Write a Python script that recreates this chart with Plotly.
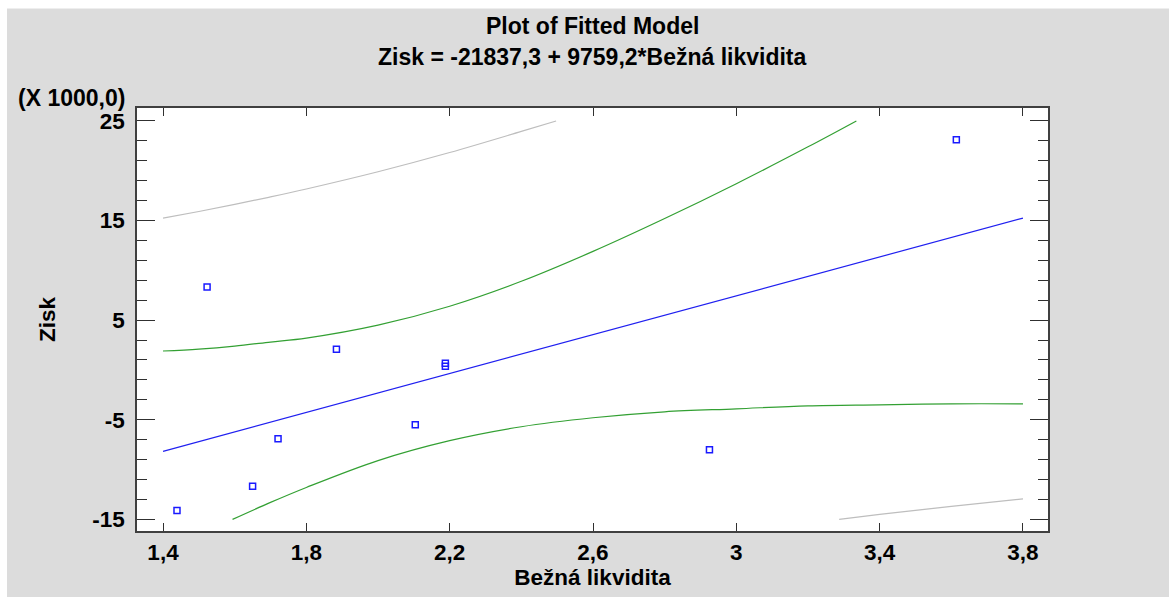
import plotly.graph_objects as go

# Observed data (Zisk in thousands)
x_pts = [1.523, 1.884, 2.188, 2.188, 2.104, 1.721, 1.650, 1.439, 3.614, 2.925]
y_pts = [8.33, 2.07, 0.67, 0.37, -5.5, -6.9, -11.67, -14.1, 23.1, -8.0]

# Fitted line endpoints
fit_x = [1.4, 3.8]
fit_y = [-8.17, 15.25]

# Confidence limits (green)
conf_up_x = [1.4, 1.5, 1.6, 1.7, 1.8, 2.0, 2.2, 2.4, 2.6, 2.8, 3.0, 3.2, 3.335]
conf_up_y = [1.9, 2.1, 2.4, 2.8, 3.2, 4.5, 6.4, 8.9, 11.9, 15.2, 18.7, 22.4, 25.0]
conf_lo_x = [1.594, 1.7, 1.8, 2.0, 2.2, 2.4, 2.6, 2.8, 3.0, 3.2, 3.4, 3.6, 3.8]
conf_lo_y = [-15.0, -13.3, -11.8, -9.1, -7.1, -5.7, -4.8, -4.2, -3.9, -3.6, -3.5, -3.4, -3.4]

# Prediction limits (gray)
pred_up_x = [1.4, 1.5, 1.6, 1.7, 1.8, 2.0, 2.2, 2.4, 2.497]
pred_up_y = [15.25, 15.91, 16.62, 17.37, 18.17, 19.9, 21.83, 23.95, 25.0]
pred_lo_x = [3.287, 3.4, 3.6, 3.8]
pred_lo_y = [-15.0, -14.5, -13.7, -12.95]

x_tickvals = [1.4, 1.8, 2.2, 2.6, 3.0, 3.4, 3.8]
x_ticktext = ["1,4", "1,8", "2,2", "2,6", "3", "3,4", "3,8"]
y_tickvals = [-15, -5, 5, 15, 25]
y_ticktext = ["-15", "-5", "5", "15", "25"]

FONT = "Liberation Sans, Arial, sans-serif"
GRAY_BG = "#DCDCDC"
FS = 22.5

fig = go.Figure()
fig.add_trace(go.Scatter(x=pred_up_x, y=pred_up_y, mode="lines", line=dict(color="#BEBEBE", width=1.2, shape="spline")))
fig.add_trace(go.Scatter(x=pred_lo_x, y=pred_lo_y, mode="lines", line=dict(color="#BEBEBE", width=1.2, shape="spline")))
fig.add_trace(go.Scatter(x=conf_up_x, y=conf_up_y, mode="lines", line=dict(color="#33A033", width=1.2, shape="spline")))
fig.add_trace(go.Scatter(x=conf_lo_x, y=conf_lo_y, mode="lines", line=dict(color="#33A033", width=1.2, shape="spline")))
fig.add_trace(go.Scatter(x=fit_x, y=fit_y, mode="lines", line=dict(color="#2020F0", width=1.2)))
fig.add_trace(go.Scatter(x=x_pts, y=y_pts, mode="markers",
                         marker=dict(symbol="square-open", size=6, color="#1a1aff", line=dict(width=1.5))))

axis_common = dict(
    showline=True, linecolor="#404040", linewidth=1.5, mirror="ticks",
    ticks="inside", tickcolor="#303030", tickwidth=1.3,
    showgrid=False, zeroline=False,
    tickfont=dict(family=FONT, size=FS, color="black", weight="bold"),
)

fig.update_xaxes(**axis_common, range=[1.3274, 3.8698], tickmode="array",
                 tickvals=x_tickvals, ticktext=x_ticktext, ticklen=8,
                 title=dict(text="Bežná likvidita", font=dict(family=FONT, size=FS, color="black", weight="bold"), standoff=4))
fig.update_yaxes(**axis_common, range=[-16.17, 26.3], tickmode="array",
                 tickvals=y_tickvals, ticktext=y_ticktext, ticklen=18,
                 ticklabelstandoff=6,
                 minor=dict(ticks="inside", ticklen=10, tickcolor="#303030", tickwidth=1.3, tick0=25, dtick=2),
                 title=dict(text="Zisk", font=dict(family=FONT, size=FS, color="black", weight="bold"), standoff=30))

fig.update_layout(
    width=1169, height=597,
    margin=dict(l=137, r=121, t=108, b=64),
    paper_bgcolor=GRAY_BG, plot_bgcolor="white",
    showlegend=False,
    shapes=[
        dict(type="rect", xref="paper", yref="paper", x0=-0.2, x1=(0 - 137 + 7) / 911, y0=-0.2, y1=1.3,
             fillcolor="white", line=dict(width=0), layer="below"),
        dict(type="rect", xref="paper", yref="paper", x0=-0.2, x1=1.2, y0=(533 - 8) / 425, y1=1.3,
             fillcolor="white", line=dict(width=0), layer="below"),
    ],
    annotations=[
        dict(text="Plot of Fitted Model", xref="paper", yref="paper", x=0.5, y=(533 - 26) / 425,
             showarrow=False, xanchor="center", yanchor="middle",
             font=dict(family=FONT, size=23, color="black", weight="bold")),
        dict(text="Zisk = -21837,3 + 9759,2*Bežná likvidita", xref="paper", yref="paper", x=0.5, y=(533 - 57) / 425,
             showarrow=False, xanchor="center", yanchor="middle",
             font=dict(family=FONT, size=23, color="black", weight="bold")),
        dict(text="(X 1000,0)", xref="paper", yref="paper", x=(16 - 137) / 911, y=(533 - 98) / 425,
             showarrow=False, xanchor="left", yanchor="middle",
             font=dict(family=FONT, size=23, color="black", weight="bold")),
    ],
)

fig.write_html("out.html")
